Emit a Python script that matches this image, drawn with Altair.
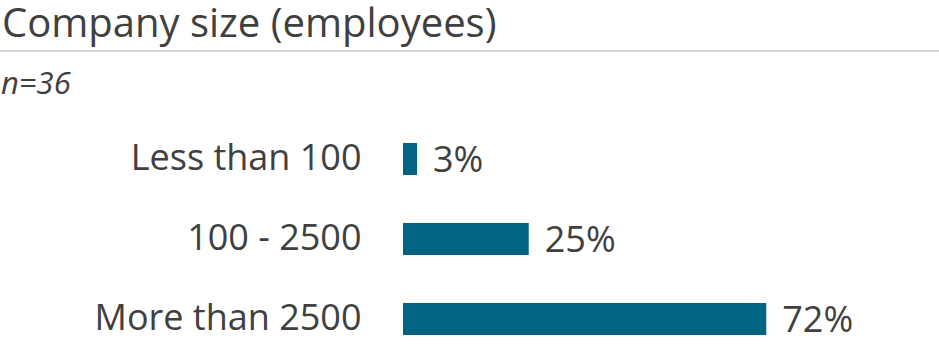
import altair as alt
import pandas as pd

categories = ["Less than 100", "100 - 2500", "More than 2500"]
values = [2.78, 25.0, 72.22]
labels = ["3%", "25%", "72%"]

title_text = "Company size (employees)"
subtitle_text = "n=36"

df = pd.DataFrame({"cat": categories, "val": values, "lab": labels})

FONT = "Open Sans"
GRAY = "#404040"
BLUE = "#006482"

y_enc = alt.Y(
    "cat:N",
    sort=categories,
    scale=alt.Scale(paddingInner=0.6, paddingOuter=0.05),
    axis=alt.Axis(
        title=None, domain=False, ticks=False, labelFont=FONT, labelFontSize=36,
        labelColor=GRAY, labelPadding=42, labelLimit=400,
    ),
)
x_enc = alt.X("val:Q", scale=alt.Scale(domain=[0, 100]), axis=None)

bars = alt.Chart(df).mark_bar(color=BLUE).encode(x=x_enc, y=y_enc)

texts = alt.Chart(df).mark_text(
    align="left", baseline="middle", dx=16, dy=2, font=FONT, fontSize=36, color=GRAY
).encode(x=x_enc, y=y_enc, text="lab:N")

head = pd.DataFrame({"t": [title_text]})
title = alt.Chart(head).mark_text(
    align="left", baseline="alphabetic", font=FONT, fontSize=40, color=GRAY
).encode(x=alt.value(-401), y=alt.value(-102), text="t:N")

sub = pd.DataFrame({"t": [subtitle_text]})
subtitle = alt.Chart(sub).mark_text(
    align="left", baseline="alphabetic", font=FONT, fontSize=31, fontStyle="italic", color=GRAY
).encode(x=alt.value(-402), y=alt.value(-45), text="t:N")

rule = alt.Chart(head).mark_rule(color="#d9d9d9", strokeWidth=2).encode(
    x=alt.value(-403), x2=alt.value(536), y=alt.value(-88)
)

chart = alt.layer(bars, texts, title, subtitle, rule).properties(
    width=503, height=200,
    background="white",
    autosize=alt.AutoSizeParams(type="none"),
    padding={"left": 403, "top": 139, "right": 33, "bottom": 6},
).configure_view(strokeWidth=0, stroke="transparent")

chart.save("out.html", embed_options={"renderer": "svg", "actions": False})
